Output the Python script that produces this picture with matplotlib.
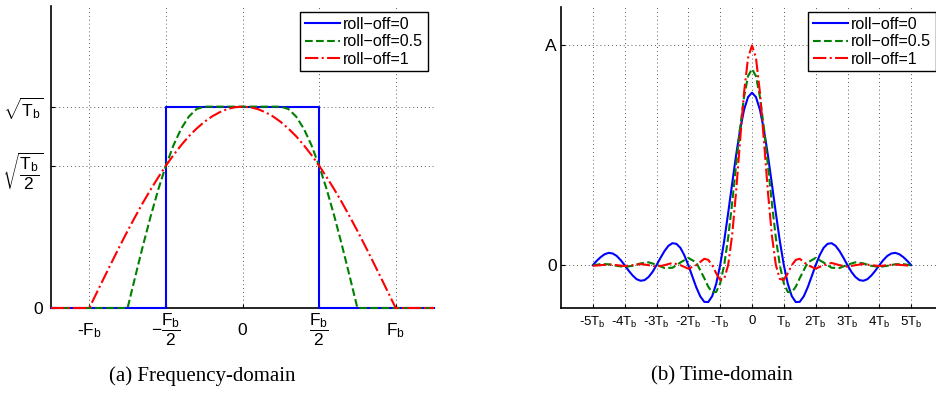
import matplotlib
matplotlib.use("Agg")
import matplotlib.pyplot as plt

plt.rcParams['font.family'] = ['Liberation Sans', 'DejaVu Sans']
plt.rcParams['mathtext.fontset'] = 'custom'
plt.rcParams['mathtext.rm'] = 'Liberation Sans'
plt.rcParams['mathtext.it'] = 'Liberation Sans'
plt.rcParams['mathtext.bf'] = 'Liberation Sans:bold'

# ---------------- data: frequency domain (x in units of Fb, y in units of sqrt(Tb)) -------------
freq_r0 = [-1.25, -0.5, -0.5, 0.5, 0.5, 1.25]
spec_r0 = [0, 0, 1, 1, 0, 0]

freq_r05 = [-1.25, -0.75, -0.70, -0.65, -0.60, -0.55, -0.50, -0.45, -0.40, -0.35, -0.30, -0.25,
            0.25, 0.30, 0.35, 0.40, 0.45, 0.50, 0.55, 0.60, 0.65, 0.70, 0.75, 1.25]
spec_r05 = [0, 0, 0.156, 0.309, 0.454, 0.588, 0.707, 0.809, 0.891, 0.951, 0.988, 1.0,
            1.0, 0.988, 0.951, 0.891, 0.809, 0.707, 0.588, 0.454, 0.309, 0.156, 0, 0]

freq_r1 = [-1.25, -1.0, -0.95, -0.9, -0.85, -0.8, -0.75, -0.7, -0.65, -0.6, -0.55, -0.5,
           -0.45, -0.4, -0.35, -0.3, -0.25, -0.2, -0.15, -0.1, -0.05, 0.0,
           0.05, 0.1, 0.15, 0.2, 0.25, 0.3, 0.35, 0.4, 0.45, 0.5,
           0.55, 0.6, 0.65, 0.7, 0.75, 0.8, 0.85, 0.9, 0.95, 1.0, 1.25]
spec_r1 = [0, 0, 0.078, 0.156, 0.233, 0.309, 0.383, 0.454, 0.523, 0.588, 0.649, 0.707,
           0.760, 0.809, 0.853, 0.891, 0.924, 0.951, 0.972, 0.988, 0.997, 1.0,
           0.997, 0.988, 0.972, 0.951, 0.924, 0.891, 0.853, 0.809, 0.760, 0.707,
           0.649, 0.588, 0.523, 0.454, 0.383, 0.309, 0.233, 0.156, 0.078, 0, 0]

freq_ticks = [-1.0, -0.5, 0.0, 0.5, 1.0]
freq_ticklabels = ['-F$_b$', r'$-\dfrac{F_b}{2}$', '0', r'$\dfrac{F_b}{2}$', 'F$_b$']
amp_ticks = [0, 0.7071, 1.0]
amp_ticklabels = ['0', r'$\sqrt{\dfrac{T_b}{2}}$', r'$\sqrt{T_b}$']

# ---------------- data: time domain (x in units of Tb, y in units of A) -------------------------
time_r0 = [-5, -4.875, -4.75, -4.625, -4.5, -4.375, -4.25, -4.125, -4, -3.875, -3.75, -3.625,
           -3.5, -3.375, -3.25, -3.125, -3, -2.875, -2.75, -2.625, -2.5, -2.375, -2.25, -2.125,
           -2, -1.875, -1.75, -1.625, -1.5, -1.375, -1.25, -1.125, -1, -0.875, -0.75, -0.625,
           -0.5, -0.375, -0.25, -0.125, 0,
           0.125, 0.25, 0.375, 0.5, 0.625, 0.75, 0.875, 1, 1.125, 1.25, 1.375, 1.5,
           1.625, 1.75, 1.875, 2, 2.125, 2.25, 2.375, 2.5, 2.625, 2.75, 2.875, 3,
           3.125, 3.25, 3.375, 3.5, 3.625, 3.75, 3.875, 4, 4.125, 4.25, 4.375, 4.5,
           4.625, 4.75, 4.875, 5]
pulse_r0 = [0.0, 0.020, 0.037, 0.050, 0.056, 0.053, 0.042, 0.023, 0.0, -0.025, -0.047, -0.064,
            -0.071, -0.068, -0.054, -0.031, 0.0, 0.033, 0.064, 0.088, 0.100, 0.097, 0.079, 0.045,
            0.0, -0.051, -0.101, -0.142, -0.167, -0.168, -0.141, -0.085, 0.0, 0.109, 0.236, 0.369,
            0.500, 0.616, 0.707, 0.765, 0.785,
            0.765, 0.707, 0.616, 0.500, 0.369, 0.236, 0.109, 0.0, -0.085, -0.141, -0.168, -0.167,
            -0.142, -0.101, -0.051, 0.0, 0.045, 0.079, 0.097, 0.100, 0.088, 0.064, 0.033, 0.0,
            -0.031, -0.054, -0.068, -0.071, -0.064, -0.047, -0.025, 0.0, 0.023, 0.042, 0.053, 0.056,
            0.050, 0.037, 0.020, 0.0]

time = [-5, -4.75, -4.5, -4.25, -4, -3.75, -3.5, -3.25, -3, -2.75, -2.5, -2.25, -2, -1.75,
        -1.5, -1.375, -1.25, -1.125, -1, -0.875, -0.75, -0.625, -0.5, -0.375, -0.25, -0.125,
        0,
        0.125, 0.25, 0.375, 0.5, 0.625, 0.75, 0.875, 1, 1.125, 1.25, 1.375, 1.5,
        1.75, 2, 2.25, 2.5, 2.75, 3, 3.25, 3.5, 3.75, 4, 4.25, 4.5, 4.75, 5]
pulse_r05 = [-0.001, 0.005, 0.004, -0.003, -0.008, -0.003, 0.008, 0.013, 0.002, -0.013, -0.012, 0.012, 0.033, 0.012,
             -0.059, -0.098, -0.123, -0.122, -0.083, -0.001, 0.123, 0.281, 0.455, 0.624, 0.765, 0.860,
             0.893,
             0.860, 0.765, 0.624, 0.455, 0.281, 0.123, -0.001, -0.083, -0.122, -0.123, -0.098, -0.059,
             0.012, 0.033, 0.012, -0.012, -0.013, 0.002, 0.013, 0.008, -0.003, -0.008, -0.003, 0.004, 0.005, -0.001]
pulse_r1 = [-0.003, 0.0, 0.003, 0.0, -0.004, 0.0, 0.005, 0.0, -0.007, 0.0, 0.010, 0.0, -0.016, 0.0,
            0.029, 0.024, 0.0, -0.037, -0.067, -0.063, 0.0, 0.135, 0.333, 0.566, 0.785, 0.943,
            1.000,
            0.943, 0.785, 0.566, 0.333, 0.135, 0.0, -0.063, -0.067, -0.037, 0.0, 0.024, 0.029,
            0.0, -0.016, 0.0, 0.010, 0.0, -0.007, 0.0, 0.005, 0.0, -0.004, 0.0, 0.003, 0.0, -0.003]

time_ticks = [-5, -4, -3, -2, -1, 0, 1, 2, 3, 4, 5]
time_ticklabels = ['-5T$_b$', '-4T$_b$', '-3T$_b$', '-2T$_b$', '-T$_b$', '0',
                   'T$_b$', '2T$_b$', '3T$_b$', '4T$_b$', '5T$_b$']
pulse_ticks = [0, 1]
pulse_ticklabels = ['0', 'A']

labels = ['roll\u2212off=0', 'roll\u2212off=0.5', 'roll\u2212off=1']
colors = ['#0000ff', '#008000', '#ff0000']
styles = ['-', '--', '-.']

# ---------------- figure ------------------------------------------------------------------------
fig = plt.figure(figsize=(9.36, 3.99), dpi=100)
W, H = 936, 399


def px_axes(x0, x1, ytop, ybot):
    return fig.add_axes([x0 / W, (H - ybot) / H, (x1 - x0) / W, (ybot - ytop) / H])


grid_kw = dict(color='0.35', linestyle=(0, (1, 3)), linewidth=0.7)


def style_axes(ax):
    for s in ['top', 'right']:
        ax.spines[s].set_visible(False)
    for s in ['left', 'bottom']:
        ax.spines[s].set_linewidth(1.2)
        ax.spines[s].set_color('black')
    ax.set_axisbelow(True)
    ax.grid(True, **grid_kw)
    ax.tick_params(direction='in', length=3, width=0.8, top=False, right=False)


LW = 1.5

# Left panel: frequency domain
ax1 = px_axes(51, 434, 6, 308)
series_f = [(freq_r0, spec_r0), (freq_r05, spec_r05), (freq_r1, spec_r1)]
for (fx, fy), c, ls, lab in zip(series_f, colors, styles, labels):
    ax1.plot(fx, fy, color=c, linestyle=ls, linewidth=LW, label=lab,
             clip_on=False, zorder=3)
ax1.set_xlim(-1.25, 1.25)
ax1.set_ylim(0, 1.5)
style_axes(ax1)
for s in ['left', 'bottom']:
    ax1.spines[s].set_zorder(2)
ax1.set_xticks(freq_ticks)
ax1.set_xticklabels(freq_ticklabels, fontsize=12.5)
ax1.set_yticks(amp_ticks)
ax1.set_yticklabels(amp_ticklabels, fontsize=12.5)
ax1.tick_params(axis='x', pad=16)
ax1.tick_params(axis='y', pad=5.5)
for lbl in ax1.get_xticklabels():
    lbl.set_va('center')
leg1 = ax1.legend(loc='upper right', bbox_to_anchor=(428 / W, (H - 12) / H),
                  bbox_transform=fig.transFigure, fontsize=11.5, frameon=True,
                  fancybox=False, framealpha=1, edgecolor='black', borderpad=0.3,
                  labelspacing=0.15, handlelength=2.2, handletextpad=0.2, borderaxespad=0)
leg1.get_frame().set_linewidth(1.0)
leg1.set_zorder(5)

# Right panel: time domain
ax2 = px_axes(561, 943, 7, 308)
series_t = [(time_r0, pulse_r0), (time, pulse_r05), (time, pulse_r1)]
for (tx, ty), c, ls, lab in zip(series_t, colors, styles, labels):
    ax2.plot(tx, ty, color=c, linestyle=ls, linewidth=LW, label=lab)
ax2.set_xlim(-6, 6)
ax2.set_ylim(-0.195, 1.175)
style_axes(ax2)
ax2.set_xticks(time_ticks)
ax2.set_xticklabels(time_ticklabels, fontsize=9.5)
ax2.set_yticks(pulse_ticks)
ax2.set_yticklabels(pulse_ticklabels, fontsize=12.5)
ax2.tick_params(axis='x', pad=5)
ax2.tick_params(axis='y', pad=3)
leg2 = ax2.legend(loc='upper right', bbox_to_anchor=(936 / W, (H - 12) / H),
                  bbox_transform=fig.transFigure, fontsize=11.5, frameon=True,
                  fancybox=False, framealpha=1, edgecolor='black', borderpad=0.3,
                  labelspacing=0.15, handlelength=2.2, handletextpad=0.2, borderaxespad=0)
leg2.get_frame().set_linewidth(1.0)

# Captions
fig.text(202 / W, (H - 376) / H, '(a) Frequency-domain', family='Liberation Serif',
         fontsize=15, ha='center', va='center')
fig.text(722 / W, (H - 376) / H, '(b) Time-domain', family='Liberation Serif',
         fontsize=15, ha='center', va='center')

fig.savefig('out.png', dpi=100)
